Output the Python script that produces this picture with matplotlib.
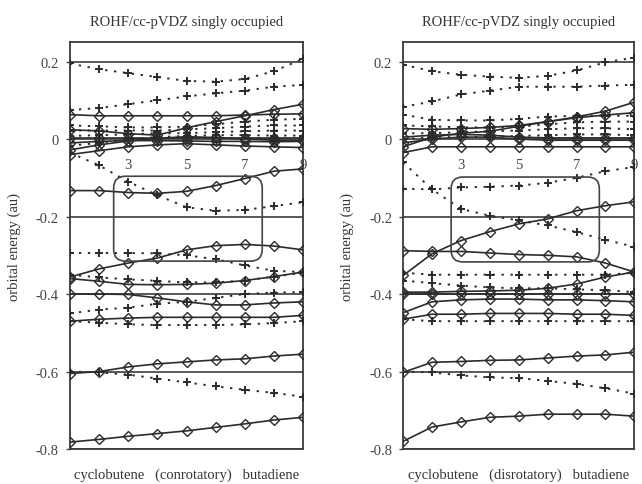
import numpy as np
import matplotlib
matplotlib.use('Agg')
import matplotlib.pyplot as plt
from matplotlib.patches import FancyBboxPatch

plt.rcParams['font.family'] = ['Liberation Serif', 'DejaVu Serif']

# reaction coordinate steps (1 = cyclobutene, 9 = butadiene)
steps = [1, 2, 3, 4, 5, 6, 7, 8, 9]

# conrotatory path: solid = diamond orbitals, dotted = cross orbitals
con_solid = [
    [0.063, 0.060, 0.060, 0.060, 0.060, 0.060, 0.062, 0.064, 0.065],
    [0.024, 0.021, 0.014, 0.010, 0.029, 0.045, 0.060, 0.076, 0.090],
    [0.003, 0.003, 0.003, 0.003, 0.003, 0.003, 0.003, 0.003, 0.003],
    [-0.010, -0.006, -0.004, -0.004, -0.005, -0.006, -0.006, -0.007, -0.006],
    [-0.040, -0.030, -0.020, -0.015, -0.012, -0.015, -0.018, -0.020, -0.022],
    [-0.028, -0.015, -0.005, 0.002, 0.006, 0.004, 0.000, -0.003, -0.004],
    [-0.133, -0.133, -0.138, -0.140, -0.135, -0.120, -0.102, -0.083, -0.077],
    [-0.356, -0.335, -0.320, -0.307, -0.286, -0.275, -0.272, -0.276, -0.286],
    [-0.360, -0.367, -0.375, -0.376, -0.375, -0.372, -0.365, -0.355, -0.343],
    [-0.400, -0.400, -0.401, -0.410, -0.420, -0.428, -0.428, -0.423, -0.420],
    [-0.470, -0.465, -0.462, -0.460, -0.460, -0.460, -0.460, -0.460, -0.455],
    [-0.605, -0.600, -0.588, -0.580, -0.575, -0.570, -0.567, -0.560, -0.555],
    [-0.782, -0.775, -0.767, -0.760, -0.753, -0.744, -0.735, -0.725, -0.718],
]
con_dotted = [
    [0.195, 0.180, 0.170, 0.160, 0.150, 0.148, 0.155, 0.175, 0.207],
    [0.075, 0.080, 0.090, 0.100, 0.110, 0.118, 0.125, 0.135, 0.140],
    [0.035, 0.033, 0.030, 0.030, 0.032, 0.038, 0.045, 0.050, 0.052],
    [0.022, 0.022, 0.022, 0.022, 0.025, 0.028, 0.032, 0.035, 0.035],
    [0.008, 0.010, 0.012, 0.015, 0.015, 0.018, 0.020, 0.022, 0.022],
    [-0.017, -0.010, 0.000, 0.005, 0.008, 0.010, 0.010, 0.009, 0.009],
    [-0.035, -0.068, -0.110, -0.145, -0.176, -0.185, -0.183, -0.173, -0.163],
    [-0.294, -0.294, -0.294, -0.295, -0.300, -0.310, -0.326, -0.340, -0.343],
    [-0.350, -0.357, -0.362, -0.366, -0.370, -0.370, -0.365, -0.355, -0.345],
    [-0.450, -0.440, -0.435, -0.425, -0.420, -0.410, -0.400, -0.396, -0.395],
    [-0.470, -0.474, -0.478, -0.480, -0.480, -0.480, -0.478, -0.475, -0.470],
    [-0.600, -0.602, -0.608, -0.618, -0.628, -0.638, -0.647, -0.655, -0.665],
]

# disrotatory path
dis_solid = [
    [-0.020, 0.005, 0.015, 0.020, 0.033, 0.045, 0.057, 0.072, 0.095],
    [0.027, 0.025, 0.027, 0.030, 0.035, 0.045, 0.055, 0.062, 0.068],
    [0.005, 0.010, 0.012, 0.010, 0.005, 0.003, 0.003, 0.003, 0.003],
    [-0.010, 0.000, 0.005, 0.005, 0.000, -0.003, -0.003, -0.003, -0.003],
    [-0.035, -0.020, -0.020, -0.020, -0.020, -0.020, -0.020, -0.020, -0.020],
    [-0.288, -0.290, -0.290, -0.294, -0.298, -0.300, -0.304, -0.320, -0.343],
    [-0.352, -0.296, -0.262, -0.239, -0.219, -0.206, -0.185, -0.172, -0.162],
    [-0.395, -0.395, -0.393, -0.392, -0.390, -0.385, -0.374, -0.356, -0.343],
    [-0.400, -0.400, -0.400, -0.400, -0.400, -0.400, -0.400, -0.400, -0.400],
    [-0.448, -0.420, -0.415, -0.413, -0.413, -0.415, -0.415, -0.417, -0.420],
    [-0.465, -0.452, -0.452, -0.450, -0.450, -0.450, -0.452, -0.452, -0.455],
    [-0.602, -0.576, -0.574, -0.571, -0.570, -0.565, -0.560, -0.557, -0.550],
    [-0.780, -0.743, -0.730, -0.718, -0.715, -0.710, -0.710, -0.710, -0.715],
]
dis_dotted = [
    [0.192, 0.175, 0.166, 0.161, 0.158, 0.163, 0.177, 0.198, 0.210],
    [0.083, 0.097, 0.115, 0.125, 0.135, 0.135, 0.135, 0.138, 0.140],
    [0.063, 0.050, 0.048, 0.048, 0.052, 0.058, 0.060, 0.060, 0.060],
    [0.035, 0.033, 0.030, 0.030, 0.032, 0.038, 0.043, 0.045, 0.045],
    [0.015, 0.015, 0.018, 0.020, 0.022, 0.025, 0.028, 0.028, 0.025],
    [0.000, 0.005, 0.005, 0.006, 0.008, 0.010, 0.012, 0.012, 0.010],
    [-0.060, -0.130, -0.180, -0.198, -0.210, -0.223, -0.240, -0.260, -0.278],
    [-0.128, -0.130, -0.125, -0.123, -0.120, -0.113, -0.100, -0.083, -0.072],
    [-0.345, -0.350, -0.350, -0.350, -0.350, -0.350, -0.350, -0.350, -0.345],
    [-0.365, -0.372, -0.378, -0.383, -0.385, -0.385, -0.388, -0.390, -0.395],
    [-0.465, -0.470, -0.470, -0.470, -0.470, -0.470, -0.470, -0.470, -0.470],
    [-0.600, -0.602, -0.610, -0.615, -0.617, -0.624, -0.632, -0.643, -0.657],
]

title = 'ROHF/cc-pVDZ singly occupied'
yticks = [0.2, 0, -0.2, -0.4, -0.6, -0.8]
ytick_labels = ['0.2', '0', '-0.2', '-0.4', '-0.6', '-0.8']
xticks = [3, 5, 7, 9]
# highlighted region (x0, y0, x1, y1) for each path
con_box = (2.5, -0.315, 7.6, -0.096)
dis_box = (2.66, -0.317, 7.79, -0.098)

ink = '#2b2b2b'
grey = '#444444'


def draw_panel(ax, solid, dotted, box, path_name):
    for s in dotted:
        ax.plot(steps, s, color=ink, lw=1.4, ls=(0, (1.2, 3.4)),
                marker='+', ms=6, mew=1.4, zorder=3)
    for s in solid:
        ax.plot(steps, s, color=ink, lw=1.2, ls='-',
                marker='D', ms=5, mfc='none', mew=1.0, zorder=4)

    ax.set_xlim(1, 9)
    ax.set_ylim(-0.8, 0.25)
    ax.set_yticks(yticks)
    ax.set_yticklabels(ytick_labels)
    ax.set_xticks([])
    ax.tick_params(axis='y', direction='out', length=3, width=1,
                   labelsize=10.5, colors=grey, pad=5)
    ax.yaxis.grid(True, color=ink, lw=1.1)
    ax.set_axisbelow(True)
    for sp in ax.spines.values():
        sp.set_color('#3a3a3a')
        sp.set_linewidth(1.3)

    # step numbers sit just below the zero line
    sec = ax.secondary_xaxis(0.8 / 1.05)
    sec.xaxis.set_ticks_position('bottom')
    sec.set_xticks(xticks)
    sec.tick_params(length=0, labelsize=10.5, colors=grey, pad=14)
    for sp in sec.spines.values():
        sp.set_visible(False)

    x0, y0, x1, y1 = box
    aspect = (ax.bbox.height / 1.05) / (ax.bbox.width / 8.0)
    rect = FancyBboxPatch((x0, y0), x1 - x0, y1 - y0,
                          boxstyle='round,pad=0,rounding_size=0.4',
                          mutation_aspect=1.0 / aspect,
                          fill=False, ec=grey, lw=1.2, zorder=5)
    ax.add_patch(rect)

    ax.set_title(title, fontsize=10.5, color='#333333', pad=12)
    ax.set_ylabel('orbital energy (au)', fontsize=10.5, color='#333333', labelpad=11)
    ax.set_xlabel('cyclobutene   (%s)   butadiene' % path_name,
                  fontsize=10.5, color='#333333', labelpad=13)


fig = plt.figure(figsize=(6.42, 4.85), dpi=100)
ax1 = fig.add_axes([0.109, 0.072, 0.363, 0.839])
ax2 = fig.add_axes([0.628, 0.072, 0.360, 0.839])

draw_panel(ax1, con_solid, con_dotted, con_box, 'conrotatory')
draw_panel(ax2, dis_solid, dis_dotted, dis_box, 'disrotatory')

fig.savefig('out.png', dpi=100)
